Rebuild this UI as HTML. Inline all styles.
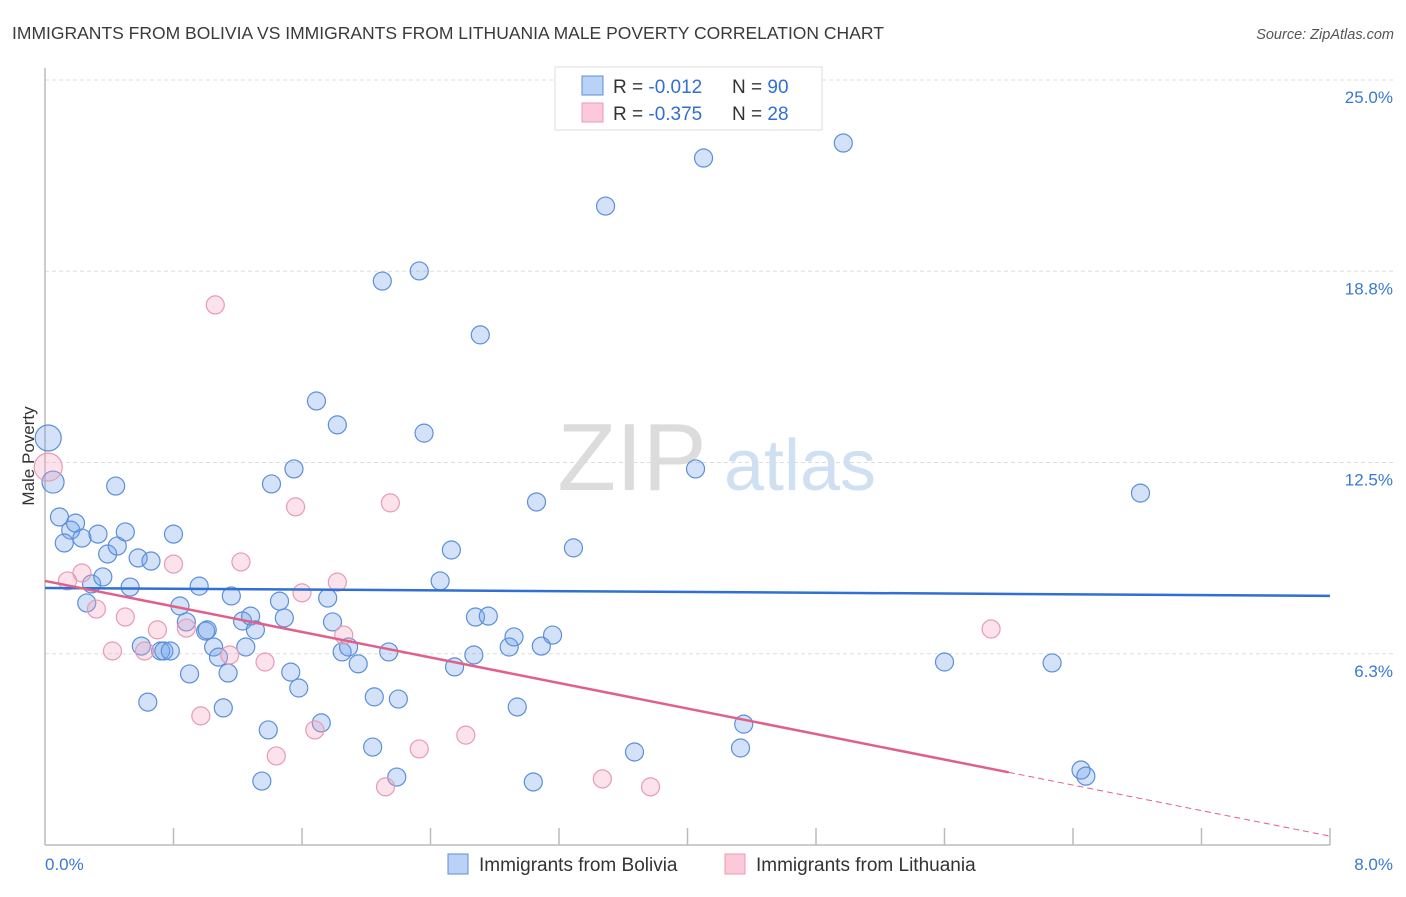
<!DOCTYPE html>
<html><head><meta charset="utf-8"><style>
body{margin:0;background:#fff;font-family:"Liberation Sans",sans-serif}
svg text{font-family:"Liberation Sans",sans-serif}
</style></head><body>
<svg id="chart" width="1406" height="892" viewBox="0 0 1406 892" xmlns="http://www.w3.org/2000/svg">
<text x="12" y="39" font-size="17.5" fill="#3a3a3a">IMMIGRANTS FROM BOLIVIA VS IMMIGRANTS FROM LITHUANIA MALE POVERTY CORRELATION CHART</text>
<text x="1394" y="39" font-size="14.5" fill="#555" font-style="italic" text-anchor="end">Source: ZipAtlas.com</text>
<g>
<text x="632" y="490" font-size="96" fill="#dcdcdc" font-family="Liberation Serif, serif" text-anchor="middle">ZIP</text>
<text x="800" y="490" font-size="72" fill="#cfe0f3" text-anchor="middle">atlas</text>
</g>
<g id="grid"></g>
<g id="axes"></g>
<g id="pts"></g>
<g id="lines"></g>
<text transform="translate(34,456) rotate(-90)" font-size="17" fill="#333" text-anchor="middle">Male Poverty</text>
<text x="45" y="870" font-size="17" fill="#3a78d4">0.0%</text>
<text x="1393" y="870" font-size="17" fill="#3a78d4" text-anchor="end">8.0%</text>
<g>
<rect x="555" y="67" width="267" height="63" fill="#fff" stroke="#ddd"/>
<rect x="582" y="76" width="21" height="19" fill="#b9d2f5" stroke="#5b8fd9"/>
<rect x="582" y="103" width="21" height="19" fill="#fbc9d8" stroke="#e89ab5"/>
<text x="613" y="93" font-size="19" fill="#333">R = <tspan fill="#2f6fd6">-0.012</tspan><tspan x="732">N = </tspan><tspan fill="#2f6fd6">90</tspan></text>
<text x="613" y="120" font-size="19" fill="#333">R = <tspan fill="#2f6fd6">-0.375</tspan><tspan x="732">N = </tspan><tspan fill="#2f6fd6"> 28</tspan></text>
</g>
<g>
<rect x="448" y="854" width="20" height="20" fill="#b9d2f5" stroke="#5b8fd9"/>
<text x="479" y="871" font-size="19" fill="#333">Immigrants from Bolivia</text>
<rect x="725" y="854" width="20" height="20" fill="#fbc9d8" stroke="#e89ab5"/>
<text x="756" y="871" font-size="19" fill="#333">Immigrants from Lithuania</text>
</g>
</svg>
<script>
const yTicks=[6.25,12.5,18.75,25];
const yTickLabels=["6.3%","12.5%","18.8%","25.0%"];
const boliviaX=[0.02,0.05,0.09,0.16,0.19,0.12,0.23,0.33,0.39,0.45,0.50,0.44,0.29,0.36,0.26,0.53,0.58,0.66,0.80,0.60,0.72,0.74,0.78,0.64,0.84,0.88,0.90,0.96,1.00,1.01,1.05,1.08,1.14,1.11,1.16,1.23,1.28,1.31,1.25,1.35,1.39,1.41,1.46,1.49,1.53,1.58,1.55,1.69,1.72,1.76,1.79,1.82,1.85,1.89,1.95,2.04,2.05,2.10,2.14,2.19,2.20,2.33,2.36,2.46,2.53,2.55,2.67,2.68,2.71,2.76,2.89,2.92,2.94,3.04,3.06,3.09,3.16,3.29,3.49,3.67,4.05,4.10,4.33,4.35,4.97,5.60,6.27,6.45,6.48,6.82];
const boliviaY=[13.30,11.86,10.72,10.29,10.52,9.87,10.03,10.16,9.51,9.77,10.23,11.73,8.53,8.76,7.91,8.43,9.38,9.28,10.16,6.50,6.34,6.34,6.34,4.67,7.81,7.29,5.59,8.46,6.99,7.03,6.47,6.14,5.62,4.48,8.14,7.32,7.48,7.03,6.47,2.09,3.76,11.80,7.97,7.42,5.65,5.13,12.29,14.51,3.99,8.07,7.29,13.73,6.31,6.47,5.92,3.20,4.84,18.43,6.31,2.22,4.77,18.76,13.46,8.63,9.64,5.82,6.21,7.45,16.67,7.48,6.47,6.80,4.51,2.06,11.21,6.50,6.86,9.71,20.88,3.04,12.29,22.45,3.17,3.95,22.94,5.98,5.95,2.45,2.25,11.50];
const boliviaR=[13,11];
const lithX=[0.02,0.14,0.23,0.32,0.42,0.50,0.62,0.70,0.80,0.88,0.97,1.06,1.15,1.22,1.37,1.44,1.56,1.60,1.68,1.82,1.86,2.12,2.15,2.33,2.62,3.47,3.77,5.89];
const lithY=[12.35,8.63,8.89,7.71,6.34,7.45,6.34,7.03,9.18,7.09,4.22,17.65,6.21,9.25,5.98,2.91,11.05,8.24,3.76,8.59,6.86,1.90,11.18,3.14,3.59,2.16,1.90,7.06];
const lithR=[14];
const boliviaTrend=[8.40,8.14];
const lithTrend=[8.63,0.29];
const lithSolidEnd=6.0;
const X0=45,X1=1330,XMAX=8,Y0=845,PXY=30.6;
const sx=v=>X0+v/XMAX*(X1-X0), sy=v=>Y0-v*PXY;
const NS="http://www.w3.org/2000/svg";
function mk(parent,tag,attrs){const e=document.createElementNS(NS,tag);for(const k in attrs)e.setAttribute(k,attrs[k]);document.getElementById(parent).appendChild(e);return e;}
yTicks.forEach((t,i)=>{
 const l=mk('grid','line',{x1:X0,x2:1393,y1:sy(t),y2:sy(t),stroke:'#ddd','stroke-dasharray':'4,3'});
 
 
 const tx=mk('grid','text',{x:1393,y:sy(t)+23,'font-size':17,fill:'#3a78d4','text-anchor':'end'});
 tx.textContent=yTickLabels[i];
 
 
});
const ya=mk('axes','line',{x1:X0,x2:X0,y1:68,y2:Y0,stroke:'#bbb','stroke-width':1.5});


const xa=mk('axes','line',{x1:X0,x2:X1,y1:Y0,y2:Y0,stroke:'#bbb','stroke-width':1.5});


for(let i=1;i<=10;i++){const x=X0+i*(X1-X0)/10;
 const t=mk('axes','line',{x1:x,x2:x,y1:828,y2:Y0,stroke:'#bbb','stroke-width':1.5});
 
 }
boliviaX.forEach((x,i)=>{
 const c=mk('pts','circle',{cx:sx(x),cy:sy(boliviaY[i]),r:boliviaR[i]||9,fill:'rgba(110,160,235,0.3)',stroke:'#5b8fd9','stroke-width':1.2});
 
 
});
lithX.forEach((x,i)=>{
 const c=mk('pts','circle',{cx:sx(x),cy:sy(lithY[i]),r:lithR[i]||9,fill:'rgba(245,160,190,0.3)',stroke:'#e89ab5','stroke-width':1.2});
 
 
});
const bl=mk('lines','line',{x1:sx(0),y1:sy(boliviaTrend[0]),x2:sx(XMAX),y2:sy(boliviaTrend[1]),stroke:'#2f6fd6','stroke-width':2.5});


const ly=x=>lithTrend[0]+(lithTrend[1]-lithTrend[0])*x/XMAX;
const pl=mk('lines','line',{x1:sx(0),y1:sy(ly(0)),x2:sx(lithSolidEnd),y2:sy(ly(lithSolidEnd)),stroke:'#e0608a','stroke-width':2.5});


const pd=mk('lines','line',{x1:sx(lithSolidEnd),y1:sy(ly(lithSolidEnd)),x2:sx(XMAX),y2:sy(ly(XMAX)),stroke:'#e0608a','stroke-width':1,'stroke-dasharray':'6,4'});


</script>
</body></html>
